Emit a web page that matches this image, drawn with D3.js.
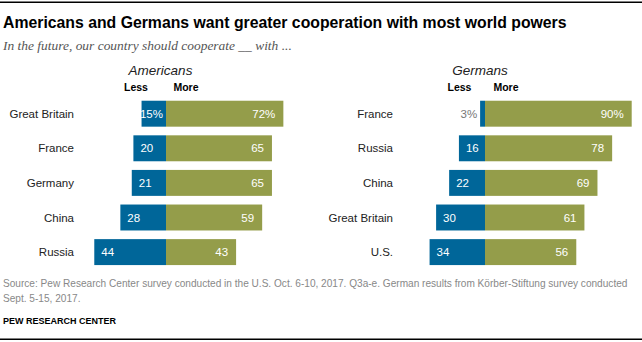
<!DOCTYPE html>
<html><head><meta charset="utf-8">
<script src="https://cdn.jsdelivr.net/npm/d3@7"></script>
<style>body{margin:0;background:#fff}svg{display:block}</style>
</head><body>
<script>
const title = "Americans and Germans want greater cooperation with most world powers";
const subtitle = "In the future, our country should cooperate __ with ...";
const sourceLines = ["Source: Pew Research Center survey conducted in the U.S. Oct. 6-10, 2017. Q3a-e. German results from Körber-Stiftung survey conducted", "Sept. 5-15, 2017."];
const credit = "PEW RESEARCH CENTER";
const headers = ["Less", "More"];

const usCategories = ["Great Britain", "France", "Germany", "China", "Russia"];
const usLess = [15, 20, 21, 28, 44];
const usMore = [72, 65, 65, 59, 43];

const deCategories = ["France", "Russia", "China", "Great Britain", "U.S."];
const deLess = [3, 16, 22, 30, 34];
const deMore = [90, 78, 69, 61, 56];

const W = 642, H = 342;
const BLUE = "#006699", GREEN = "#949d4a";
const svg = d3.select("body").append("svg").attr("width", W).attr("height", H);
const SANS = "'Liberation Sans', Arial, sans-serif";

svg.append("rect").attr("x", 0).attr("y", 1.5).attr("width", W).attr("height", 1.5).attr("fill", "#000");
svg.append("rect").attr("x", 0).attr("y", 338.5).attr("width", W).attr("height", 1.5).attr("fill", "#000");

function fit(sel, target) {
  const w = sel.node().getComputedTextLength();
  const fs = parseFloat(sel.attr("font-size"));
  sel.attr("font-size", (fs * target / w).toFixed(2));
}

fit(svg.append("text").attr("x", 3).attr("y", 28).attr("font-family", SANS).attr("font-weight", "bold")
  .attr("font-size", 16).attr("fill", "#000").text(title), 564);
fit(svg.append("text").attr("x", 3).attr("y", 50).attr("font-family", "'Liberation Serif', 'DejaVu Serif', serif").attr("font-style", "italic")
  .attr("font-size", 12).attr("fill", "#555").text(subtitle), 289);

const src = svg.append("g");
const s1 = src.append("text").attr("x", 3).attr("y", 287).attr("font-family", SANS).attr("font-size", 10).attr("fill", "#888").text(sourceLines[0]);
fit(s1, 625);
src.append("text").attr("x", 3).attr("y", 302).attr("font-family", SANS).attr("font-size", s1.attr("font-size")).attr("fill", "#888").text(sourceLines[1]);
svg.append("text").attr("x", 3).attr("y", 324).attr("font-family", SANS).attr("font-weight", "bold")
  .attr("font-size", 9).attr("fill", "#000").text(credit);

const xs = d3.scaleLinear().domain([0, 100]).range([0, 163]);

function panel(name, cats, less, more, zero, labelX, nameX, lessX, moreX) {
  const g = svg.append("g");
  const y = d3.scaleBand().domain(cats).range([96.4, 269.4]).paddingInner(0.25).paddingOuter(0.125);
  g.append("text").attr("x", nameX).attr("y", 74.5).attr("text-anchor", "middle").attr("font-family", SANS)
    .attr("font-style", "italic").attr("font-size", 13.5).attr("fill", "#222").text(name);
  g.append("text").attr("x", lessX).attr("y", 91).attr("text-anchor", "middle").attr("font-family", SANS)
    .attr("font-weight", "bold").attr("font-size", 10.5).attr("fill", "#000").text(headers[0]);
  g.append("text").attr("x", moreX).attr("y", 91).attr("text-anchor", "middle").attr("font-family", SANS)
    .attr("font-weight", "bold").attr("font-size", 10.5).attr("fill", "#000").text(headers[1]);
  const rows = cats.map((c, i) => ({c, l: less[i], m: more[i], i}));
  g.selectAll(".cat").data(rows).join("text").attr("x", labelX).attr("y", d => y(d.c) + y.bandwidth() / 2 + 4)
    .attr("text-anchor", "end").attr("font-family", SANS).attr("font-size", 11.5).attr("fill", "#222").text(d => d.c);
  g.selectAll(".less").data(rows).join("rect").attr("x", d => zero - xs(d.l)).attr("y", d => y(d.c))
    .attr("width", d => xs(d.l)).attr("height", y.bandwidth()).attr("fill", BLUE);
  g.selectAll(".more").data(rows).join("rect").attr("x", zero).attr("y", d => y(d.c))
    .attr("width", d => xs(d.m)).attr("height", y.bandwidth()).attr("fill", GREEN);
  g.selectAll(".lt").data(rows).join("text")
    .attr("y", d => y(d.c) + y.bandwidth() / 2 + 4).attr("font-family", SANS).attr("font-size", 11.5)
    .attr("fill", d => xs(d.l) < 12 ? "#777" : "#fff")
    .text(d => d.l + (d.i === 0 ? "%" : ""))
    .each(function(d) {
      const t = d3.select(this);
      const w = this.getComputedTextLength();
      const bx = zero - xs(d.l);
      let x;
      if (xs(d.l) < 12) x = bx - 3 - w;
      else x = Math.min(bx + 7, zero - w - 3);
      t.attr("x", x);
    });
  g.selectAll(".mt").data(rows).join("text")
    .attr("x", d => zero + xs(d.m) - 8).attr("y", d => y(d.c) + y.bandwidth() / 2 + 4)
    .attr("text-anchor", "end").attr("font-family", SANS).attr("font-size", 11.5).attr("fill", "#fff")
    .text(d => d.m + (d.i === 0 ? "%" : ""));
}

panel("Americans", usCategories, usLess, usMore, 166, 74, 160.5, 136, 186);
panel("Germans", deCategories, deLess, deMore, 485, 393, 480, 459.5, 506);
</script>
</body></html>
